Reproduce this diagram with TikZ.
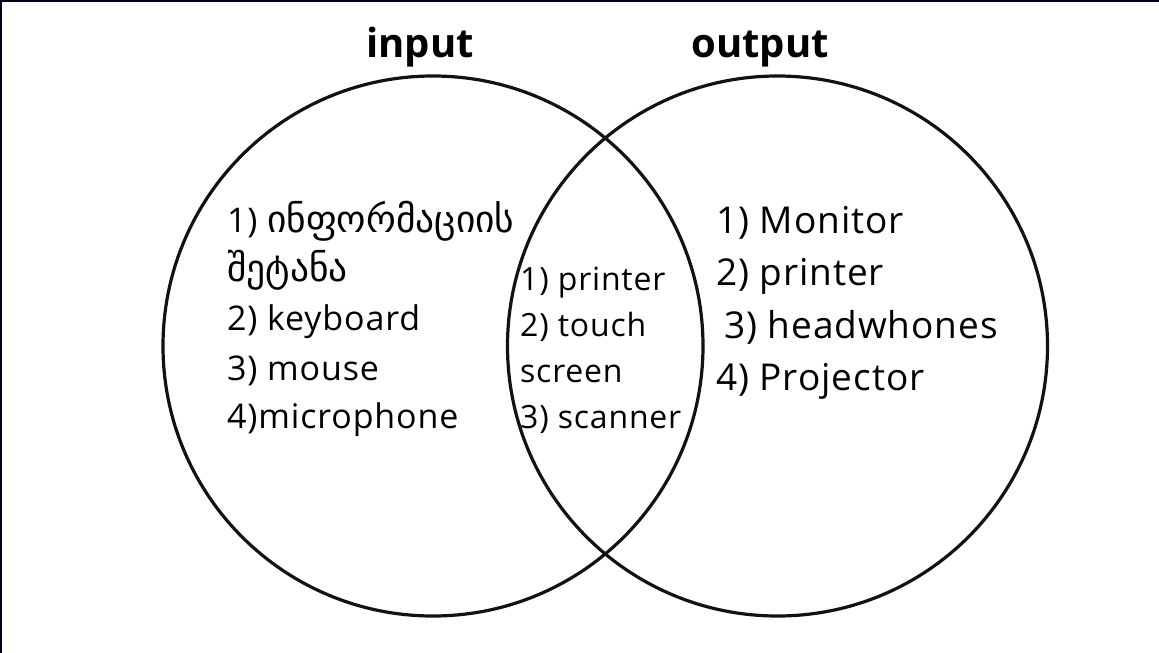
\documentclass[tikz,border=0pt]{standalone}
\usepackage{fontspec}
\setmainfont{Open Sans}
\newfontfamily\bodyfont[LetterSpace=2.5]{Open Sans}
\newfontfamily\geo[Scale=1.1]{DejaVu Sans}
\newfontfamily\titlefont{Open Sans}
\begin{document}
\begin{tikzpicture}[x=1pt,y=-1pt,
  ring/.style={draw=black!93,line width=3.2pt},
  title/.style={font=\titlefont\fontsize{40}{48}\selectfont\bfseries,anchor=base,inner sep=0pt},
  ltext/.style={font=\bodyfont\fontsize{34}{40}\selectfont,anchor=base west,inner sep=0pt},
  mtext/.style={font=\bodyfont\fontsize{32}{38}\selectfont,anchor=base west,inner sep=0pt},
  rtext/.style={font=\bodyfont\fontsize{37}{44}\selectfont,anchor=base west,inner sep=0pt},
  edge/.style={draw=black!90!blue,line width=1.5pt}]
\useasboundingbox (0,0) rectangle (1159,653);
\fill[white] (0,0) rectangle (1159,653);
\coordinate (tl) at (0.75,0.75);
\coordinate (tr) at (1159,0.75);
\coordinate (bl) at (0.75,653);
\draw[edge] (bl) -- (tl) -- (tr);
\node[ring,circle,minimum size=540pt,inner sep=0pt] (cin) at (433,346) {};
\node[ring,circle,minimum size=540pt,inner sep=0pt] (cout) at (777.5,346) {};
\node[title] (tin) at (420,57) {input};
\node[title] (tout) at (760,57) {output};
% left
\node[ltext] (l1) at (227,232) {1) {\geo ინფორმაციის}};
\node[ltext] (l1b) at (227,281) {{\geo შეტანა}};
\node[ltext] (l2) at (227,330) {2) keyboard};
\node[ltext] (l3) at (227,380) {3) mouse};
\node[ltext] (l4) at (227,428) {4)microphone};
% middle
\node[mtext] (m1) at (520,290) {1) printer};
\node[mtext] (m2) at (520,336) {2) touch};
\node[mtext] (m2b) at (520,382) {screen};
\node[mtext] (m3) at (520,428) {3) scanner};
% right
\node[rtext] (r1) at (716,233) {1) Monitor};
\node[rtext] (r2) at (716,285) {2) printer};
\node[rtext] (r3) at (724,338) {3) headwhones};
\node[rtext] (r4) at (716,390) {4) Projector};
\end{tikzpicture}
\end{document}
